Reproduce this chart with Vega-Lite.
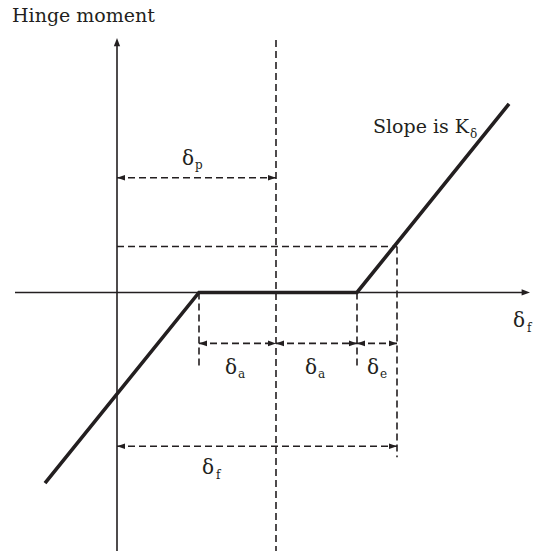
{
  "$schema": "https://vega.github.io/schema/vega-lite/v6.json",
  "width": 534,
  "height": 552,
  "autosize": {"type": "fit", "contains": "padding"},
  "padding": 0,
  "background": "white",
  "view": {"stroke": null},
  "config": {"text": {"font": "DejaVu Serif", "color": "#231f20"}},
  "datasets": {
    "axes": [
      {"id": "vertical", "x": 0, "x2": 0, "y": -259, "y2": 250},
      {"id": "horizontal", "x": -102, "x2": 408, "y": 0, "y2": 0}
    ],
    "axisTips": [
      {"x": 0, "y": 255, "dir": "up"},
      {"x": 413, "y": 0, "dir": "right"}
    ],
    "curve": [
      {"i": 0, "x": -72, "y": -191},
      {"i": 1, "x": 82, "y": 0},
      {"i": 2, "x": 240, "y": 0},
      {"i": 3, "x": 392, "y": 189}
    ],
    "guides": [
      {"id": "center", "x": 159, "x2": 159, "y": 253, "y2": -259},
      {"id": "level", "x": 0, "x2": 280, "y": 46, "y2": 46},
      {"id": "rightdrop", "x": 280, "x2": 280, "y": 46, "y2": -165},
      {"id": "leftkink", "x": 82, "x2": 82, "y": 0, "y2": -77},
      {"id": "rightkink", "x": 240, "x2": 240, "y": 0, "y2": -75}
    ],
    "dims": [
      {"id": "dp", "start": 0, "end": 159, "y": 115},
      {"id": "da1", "start": 82, "end": 159, "y": -51},
      {"id": "da2", "start": 159, "end": 240, "y": -51},
      {"id": "de", "start": 240, "end": 280, "y": -51},
      {"id": "df", "start": 0, "end": 280, "y": -154}
    ],
    "mainLabels": [
      {"x": 65, "y": 128, "label": "δ"},
      {"x": 396, "y": -35, "label": "δ"},
      {"x": 108, "y": -82, "label": "δ"},
      {"x": 188, "y": -82, "label": "δ"},
      {"x": 250, "y": -82, "label": "δ"},
      {"x": 85, "y": -182, "label": "δ"}
    ],
    "subLabels": [
      {"x": 78, "y": 124, "label": "p"},
      {"x": 410, "y": -40, "label": "f"},
      {"x": 121, "y": -86, "label": "a"},
      {"x": 201, "y": -86, "label": "a"},
      {"x": 263, "y": -86, "label": "e"},
      {"x": 99, "y": -187, "label": "f"},
      {"x": 353, "y": 155, "label": "δ"}
    ],
    "title": [{"x": -105, "y": 271, "label": "Hinge moment"}],
    "slope": [{"x": 352, "y": 160, "label": "Slope is K"}]
  },
  "encoding": {
    "x": {"type": "quantitative", "scale": {"domain": [-117, 417], "nice": false, "zero": false}, "axis": null},
    "y": {"type": "quantitative", "scale": {"domain": [-259, 293], "nice": false, "zero": false}, "axis": null}
  },
  "resolve": {"scale": {"shape": "independent"}},
  "layer": [
    {
      "data": {"name": "axes"},
      "mark": {"type": "rule", "color": "#231f20", "strokeWidth": 1.6},
      "encoding": {"x": {"field": "x"}, "x2": {"field": "x2"}, "y": {"field": "y"}, "y2": {"field": "y2"}}
    },
    {
      "data": {"name": "guides"},
      "mark": {"type": "rule", "color": "#231f20", "strokeWidth": 1.6, "strokeDash": [7, 4]},
      "encoding": {"x": {"field": "x"}, "x2": {"field": "x2"}, "y": {"field": "y"}, "y2": {"field": "y2"}}
    },
    {
      "data": {"name": "dims"},
      "mark": {"type": "rule", "color": "#231f20", "strokeWidth": 1.6, "strokeDash": [7, 4]},
      "encoding": {"x": {"field": "start"}, "x2": {"field": "end"}, "y": {"field": "y"}}
    },
    {
      "data": {"name": "dims"},
      "transform": [{"fold": ["start", "end"], "as": ["side", "xpos"]}],
      "mark": {"type": "point", "filled": true, "opacity": 1, "color": "#231f20", "size": 64, "strokeWidth": 0},
      "encoding": {
        "x": {"field": "xpos"},
        "y": {"field": "y"},
        "shape": {"field": "side", "type": "nominal", "scale": {"domain": ["start", "end"], "range": ["M0,0L2,-0.7L2,0.7Z", "M0,0L-2,-0.7L-2,0.7Z"]}, "legend": null}
      }
    },
    {
      "data": {"name": "axisTips"},
      "mark": {"type": "point", "filled": true, "opacity": 1, "color": "#231f20", "size": 70, "strokeWidth": 0},
      "encoding": {
        "x": {"field": "x"},
        "y": {"field": "y"},
        "shape": {"field": "dir", "type": "nominal", "scale": {"domain": ["up", "right"], "range": ["M0,0L-0.75,2L0.75,2Z", "M0,0L-2,-0.75L-2,0.75Z"]}, "legend": null}
      }
    },
    {
      "data": {"name": "curve"},
      "mark": {"type": "line", "color": "#231f20", "strokeWidth": 3.6, "strokeCap": "butt", "strokeJoin": "miter"},
      "encoding": {"x": {"field": "x"}, "y": {"field": "y"}, "order": {"field": "i"}}
    },
    {
      "data": {"name": "mainLabels"},
      "mark": {"type": "text", "fontSize": 20, "align": "left", "baseline": "alphabetic"},
      "encoding": {"x": {"field": "x"}, "y": {"field": "y"}, "text": {"field": "label"}}
    },
    {
      "data": {"name": "subLabels"},
      "mark": {"type": "text", "fontSize": 12, "align": "left", "baseline": "alphabetic"},
      "encoding": {"x": {"field": "x"}, "y": {"field": "y"}, "text": {"field": "label"}}
    },
    {
      "data": {"name": "title"},
      "mark": {"type": "text", "fontSize": 19, "align": "left", "baseline": "alphabetic"},
      "encoding": {"x": {"field": "x"}, "y": {"field": "y"}, "text": {"field": "label"}}
    },
    {
      "data": {"name": "slope"},
      "mark": {"type": "text", "fontSize": 19, "align": "right", "baseline": "alphabetic"},
      "encoding": {"x": {"field": "x"}, "y": {"field": "y"}, "text": {"field": "label"}}
    }
  ]
}
